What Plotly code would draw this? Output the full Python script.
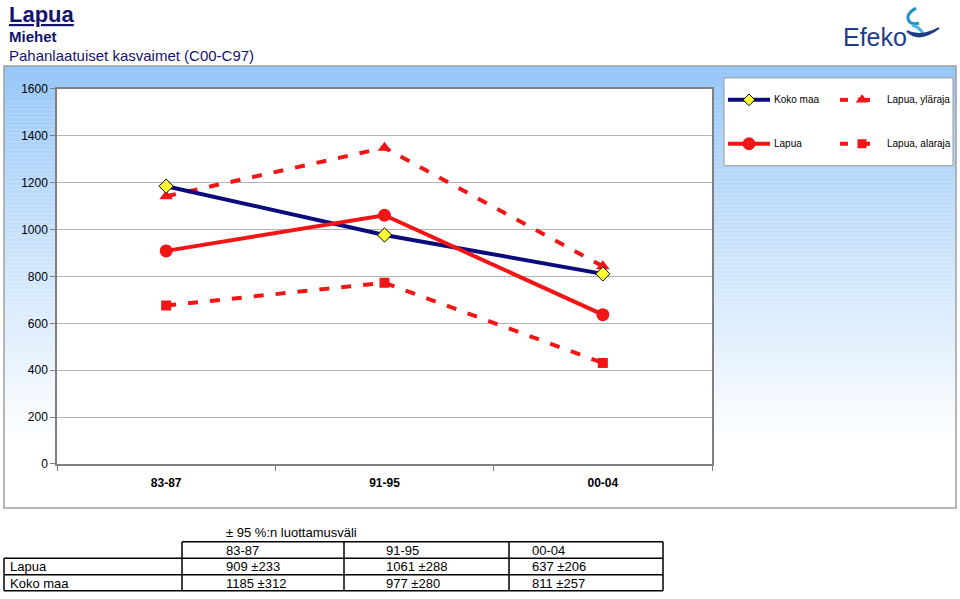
import plotly.graph_objects as go

# ---------------- data ----------------
categories = ["83-87", "91-95", "00-04"]
koko_maa = [1185, 977, 811]
koko_ci = [312, 280, 257]
lapua = [909, 1061, 637]
lapua_ci = [233, 288, 206]
lapua_upper = [1142, 1349, 843]
lapua_lower = [676, 773, 431]
y_ticks = [0, 200, 400, 600, 800, 1000, 1200, 1400, 1600]

W, H = 960, 599
FONT = "Liberation Sans, Arial, sans-serif"
NAVY = "#0b0b7d"
RED = "#f21515"

# vertical compensation of the capture (observed)
A, B = 5.9, 0.979


def dy(y):
    return (y - A) / B


def py(y):
    return 1 - dy(y) / H


# plot area in reference pixels
PX0, PX1, PY0, PY1 = 57, 712, 88, 464

fig = go.Figure()

# ---------- main series ----------
fig.add_trace(go.Scatter(x=categories, y=lapua_upper, mode="lines+markers", name="Lapua, yläraja",
                         line=dict(color=RED, width=4, dash="10px,12px"),
                         marker=dict(symbol="triangle-up", size=12, color=RED)))
fig.add_trace(go.Scatter(x=categories, y=lapua_lower, mode="lines+markers", name="Lapua, alaraja",
                         line=dict(color=RED, width=4, dash="10px,12px"),
                         marker=dict(symbol="square", size=10, color=RED)))
fig.add_trace(go.Scatter(x=categories, y=koko_maa, mode="lines+markers", name="Koko maa",
                         line=dict(color=NAVY, width=4),
                         marker=dict(symbol="diamond", size=11, color="#ffff33",
                                     line=dict(color="black", width=1))))
fig.add_trace(go.Scatter(x=categories, y=lapua, mode="lines+markers", name="Lapua",
                         line=dict(color=RED, width=4),
                         marker=dict(symbol="circle", size=13, color=RED)))

# ---------- legend samples (pixel overlay axes) ----------
legend_rows = [
    (99, "Koko maa", NAVY, "diamond", "#ffff33", 9),
    (143, "Lapua", RED, "circle", RED, 12),
]
legend_rows_r = [
    (99, "Lapua, yläraja", "triangle-up", 11),
    (143, "Lapua, alaraja", "square", 9),
]
for (yy, name, col, sym, mcol, ms) in legend_rows:
    fig.add_trace(go.Scatter(x=[728, 770], y=[yy, yy], xaxis="x2", yaxis="y2", mode="lines",
                             line=dict(color=col, width=4), showlegend=False, hoverinfo="skip"))
    fig.add_trace(go.Scatter(x=[749], y=[yy], xaxis="x2", yaxis="y2", mode="markers",
                             marker=dict(symbol=sym, size=ms, color=mcol,
                                         line=dict(color="black" if sym == "diamond" else mcol, width=1)),
                             showlegend=False, hoverinfo="skip"))
for (yy, name, sym, ms) in legend_rows_r:
    fig.add_trace(go.Scatter(x=[840, 848], y=[yy, yy], xaxis="x2", yaxis="y2", mode="lines",
                             line=dict(color=RED, width=4), showlegend=False, hoverinfo="skip"))
    fig.add_trace(go.Scatter(x=[858, 870], y=[yy, yy], xaxis="x2", yaxis="y2", mode="lines",
                             line=dict(color=RED, width=4), showlegend=False, hoverinfo="skip"))
    fig.add_trace(go.Scatter(x=[862], y=[yy], xaxis="x2", yaxis="y2", mode="markers",
                             marker=dict(symbol=sym, size=ms, color=RED),
                             showlegend=False, hoverinfo="skip"))

shapes = []
annotations = []

# ---------- gradient background (paper, below) ----------
BX0, BX1, BY0, BY1 = 4, 956, 65, 508
top_rgb = (152, 200, 248)
bot_rgb = (255, 255, 255)
step = 4
n = int((BY1 - BY0) / step) + 1
for i in range(n):
    y0 = BY0 + i * step
    y1 = min(y0 + step, BY1)
    t = min(1.0, (i * step) / ((BY1 - BY0) * 0.85))
    c = tuple(int(round(a + (b - a) * t)) for a, b in zip(top_rgb, bot_rgb))
    shapes.append(dict(type="rect", xref="paper", yref="paper", layer="below",
                       x0=BX0 / W, x1=BX1 / W, y0=py(y1), y1=py(y0),
                       line=dict(width=0), fillcolor="rgb(%d,%d,%d)" % c))
shapes.append(dict(type="rect", xref="paper", yref="paper", layer="below",
                   x0=BX0 / W, x1=BX1 / W, y0=py(BY1), y1=py(BY0),
                   line=dict(color="#a0a0a0", width=1.5), fillcolor="rgba(0,0,0,0)"))
# white plot area
shapes.append(dict(type="rect", xref="paper", yref="paper", layer="below",
                   x0=PX0 / W, x1=PX1 / W, y0=py(PY1), y1=py(PY0),
                   line=dict(width=0), fillcolor="white"))

# ---------- legend box ----------
shapes.append(dict(type="rect", xref="x2", yref="y2", layer="below",
                   x0=724, x1=953, y0=77, y1=165,
                   line=dict(color="#9a9a9a", width=1), fillcolor="white"))
for (yy, name, *_r) in legend_rows:
    annotations.append(dict(x=772, y=yy, xref="x2", yref="y2", text=name, showarrow=False,
                            xanchor="left", yanchor="middle",
                            font=dict(family=FONT, size=10, color="black")))
for (yy, name, *_r) in legend_rows_r:
    annotations.append(dict(x=885, y=yy, xref="x2", yref="y2", text=name, showarrow=False,
                            xanchor="left", yanchor="middle",
                            font=dict(family=FONT, size=10, color="black")))

# ---------- titles ----------
annotations.append(dict(x=7, y=13, xref="x2", yref="y2", text="<b><u>Lapua</u></b>", showarrow=False,
                        xanchor="left", yanchor="middle", font=dict(family=FONT, size=22, color="#14146e")))
annotations.append(dict(x=7, y=35, xref="x2", yref="y2", text="<b>Miehet</b>", showarrow=False,
                        xanchor="left", yanchor="middle", font=dict(family=FONT, size=15, color="#14146e")))
annotations.append(dict(x=7, y=55, xref="x2", yref="y2", text="Pahanlaatuiset kasvaimet (C00-C97)",
                        showarrow=False, xanchor="left", yanchor="middle",
                        font=dict(family=FONT, size=15, color="#14146e")))

# ---------- Efeko logo ----------
annotations.append(dict(x=841, y=36, xref="x2", yref="y2", text="Efeko", showarrow=False,
                        xanchor="left", yanchor="middle", font=dict(family=FONT, size=25, color="#1e3d86")))
shapes.append(dict(type="path", xref="x2", yref="y2",
                   path="M 916 7 Q 905 13 909 20 Q 912 24 919 22",
                   line=dict(color="#1f93c8", width=3)))
shapes.append(dict(type="path", xref="x2", yref="y2",
                   path="M 912 24 Q 920 26 923 33",
                   line=dict(color="#47b8e2", width=3)))
shapes.append(dict(type="path", xref="x2", yref="y2",
                   path="M 907 30 Q 919 42 939 27 Q 920 37 907 30 Z",
                   line=dict(color="#1e3d86", width=2), fillcolor="#1e3d86"))

# ---------- table ----------
TL, TC1, TC2, TC3, TR = 4, 182, 344, 509, 663
RY = [542, 558.5, 575, 591]
line_style = dict(color="black", width=1.5)
shapes.append(dict(type="line", xref="x2", yref="y2", x0=TC1, x1=TR, y0=RY[0], y1=RY[0], line=line_style))
for yy in RY[1:]:
    shapes.append(dict(type="line", xref="x2", yref="y2", x0=TL, x1=TR, y0=yy, y1=yy, line=line_style))
shapes.append(dict(type="line", xref="x2", yref="y2", x0=TL, x1=TL, y0=RY[1], y1=RY[3], line=line_style))
for xx in [TC1, TC2, TC3, TR]:
    shapes.append(dict(type="line", xref="x2", yref="y2", x0=xx, x1=xx, y0=RY[0], y1=RY[3], line=line_style))

annotations.append(dict(x=224, y=533, xref="x2", yref="y2", text="± 95 %:n luottamusväli", showarrow=False,
                        xanchor="left", yanchor="middle", font=dict(family=FONT, size=13, color="black")))
col_x = [224, 384, 530]
for cx, cat in zip(col_x, categories):
    annotations.append(dict(x=cx, y=550.5, xref="x2", yref="y2", text=cat, showarrow=False,
                            xanchor="left", yanchor="middle", font=dict(family=FONT, size=13, color="black")))
rows = [("Lapua", lapua, lapua_ci, 567), ("Koko maa", koko_maa, koko_ci, 583.5)]
for label, vals, cis, yy in rows:
    annotations.append(dict(x=8, y=yy, xref="x2", yref="y2", text=label, showarrow=False,
                            xanchor="left", yanchor="middle", font=dict(family=FONT, size=13, color="black")))
    for cx, v, c in zip(col_x, vals, cis):
        annotations.append(dict(x=cx, y=yy, xref="x2", yref="y2", text="%d ±%d" % (v, c), showarrow=False,
                                xanchor="left", yanchor="middle",
                                font=dict(family=FONT, size=13, color="black")))

fig.update_layout(
    width=W, height=H,
    margin=dict(l=0, r=0, t=0, b=0),
    paper_bgcolor="white",
    plot_bgcolor="rgba(0,0,0,0)",
    showlegend=False,
    font=dict(family=FONT, size=12, color="black"),
    xaxis=dict(domain=[PX0 / W, PX1 / W], anchor="y", type="category",
               range=[-0.5, 2.5], showgrid=False, showline=True, linecolor="#808080",
               linewidth=1.5, mirror=True, ticks="outside", ticklen=5, tickcolor="#808080",
               tickson="boundaries", tickfont=dict(family=FONT, size=12, color="black", weight="bold"),
               ticklabelstandoff=7, zeroline=False, fixedrange=True),
    yaxis=dict(domain=[py(PY1), py(PY0)], anchor="x", range=[0, 1600],
               tickvals=y_ticks, ticktext=[str(v) for v in y_ticks],
               showgrid=True, gridcolor="#b4b4b4", gridwidth=1,
               showline=True, linecolor="#808080", linewidth=1.5, mirror=True,
               ticks="outside", ticklen=5, tickcolor="#808080",
               tickfont=dict(family=FONT, size=12, color="black"), zeroline=False),
    xaxis2=dict(domain=[0, 1], anchor="y2", range=[0, W], visible=False, fixedrange=True),
    yaxis2=dict(domain=[0, 1], anchor="x2", range=[A + B * H, A], visible=False, fixedrange=True),
    shapes=shapes,
    annotations=annotations,
)

fig.write_html("out.html")
